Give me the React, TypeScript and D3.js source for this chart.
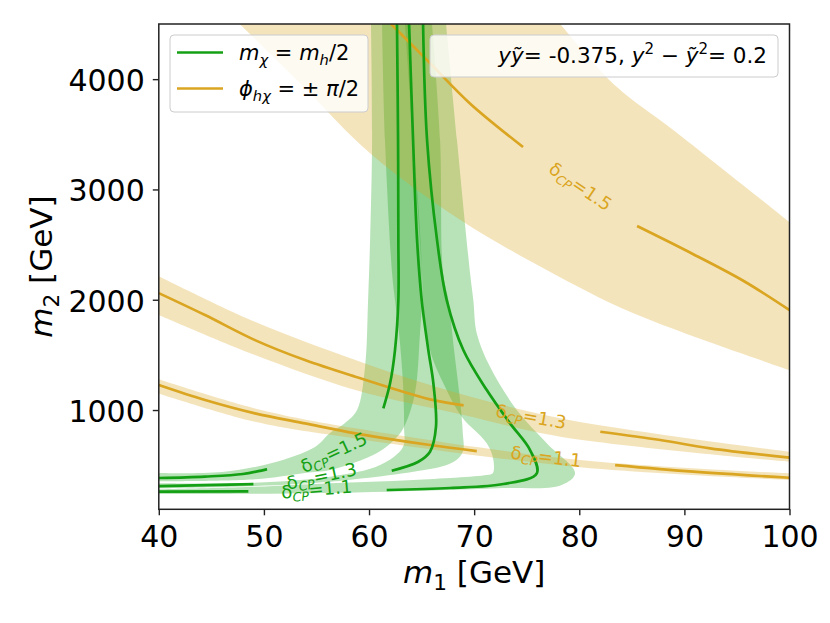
import React, { useEffect, useRef } from "react";
import * as d3 from "d3";

type Pt = [number, number];

// axis ticks
const xTicks = [40, 50, 60, 70, 80, 90, 100];
const yTicks = [1000, 2000, 3000, 4000];

// phi_hchi = +-pi/2 curves (m1 [GeV], m2 [GeV]); "a"/"b" are the pieces either side of the label
const orange15a: Pt[] = [[62.1, 4500], [65.8, 4145], [69.6, 3780], [74.65, 3385]];
const orange15b: Pt[] = [[85.5, 2668], [90.8, 2415], [95.6, 2172], [100, 1906]];
const orange15Up: Pt[] = [[78.2, 4500], [83.5, 3935], [89.0, 3535], [100, 2704]];
const orange15Lo: Pt[] = [[47.7, 4500], [53.9, 3918], [60.1, 3329], [68.7, 2722], [76.9, 2269], [85.1, 1879], [100, 1362]];

const orange13a: Pt[] = [[40, 2060], [44.4, 1861], [49.15, 1634], [53.9, 1453], [58.7, 1302], [65.8, 1097], [69.0, 1043]];
const orange13b: Pt[] = [[82.0, 803], [87.7, 728], [92.45, 653], [100, 568]];
const orange13Up: Pt[] = [[40, 2214], [49.15, 1800], [58.7, 1453], [65.8, 1227], [78.2, 925], [100, 622]];
const orange13Lo: Pt[] = [[40, 1861], [49.15, 1498], [58.7, 1181], [69.0, 955], [78.2, 758], [100, 531]];

const orange11a: Pt[] = [[40, 1227], [44.4, 1091], [49.15, 970], [53.9, 879], [58.7, 789], [65.8, 683], [70.25, 628]];
const orange11b: Pt[] = [[83.41, 501], [90.86, 441], [100, 386]];
const orange11Up: Pt[] = [[40, 1278], [49.15, 1015], [58.7, 834], [80.08, 547], [100, 426]];
const orange11Lo: Pt[] = [[40, 1151], [49.15, 894], [58.7, 743], [80.08, 481], [100, 366]];

// m_chi = m_h/2 curves
const green15a: Pt[] = [[62.66, 4500], [62.76, 3447], [62.79, 2541], [62.79, 1997], [62.47, 1544], [62.0, 1242], [61.36, 1015]];
const green15b: Pt[] = [[40, 384], [44.4, 397], [48.0, 420], [50.3, 463]];
const green13a: Pt[] = [[63.81, 4500], [64.19, 3447], [64.57, 2541], [65.01, 1997], [65.64, 1544], [66.12, 1242], [66.37, 849], [65.8, 622], [64.69, 531], [62.16, 450]];
const green13b: Pt[] = [[40, 311], [49.0, 329]];
const green11a: Pt[] = [[65.14, 4500], [65.52, 3447], [66.47, 2541], [67.39, 1997], [68.97, 1544], [71.2, 1181], [73.42, 879], [75.32, 637], [75.96, 426], [72.78, 329], [67.71, 293], [61.68, 275]];
const green11b: Pt[] = [[40, 260], [48.52, 263]];

// green bands: outer edge (top -> left) then inner edge (left -> top)
const gBand15Out: Pt[] = [[60.19, 4500], [60.29, 3447], [60.1, 2541], [59.91, 1997], [59.62, 1390], [58.86, 1000], [57.72, 882], [56.29, 792], [54.86, 665], [50.77, 520], [46.01, 438], [40, 429]];
const gBand15In: Pt[] = [[40, 354], [49.15, 372], [53.91, 430], [56.29, 456], [60.76, 610], [62.66, 755], [63.42, 864], [64.37, 1154], [64.85, 1698], [65.04, 1997], [65.04, 2242], [64.66, 2903], [64.19, 3447], [63.71, 4500]];
const gBand13Out: Pt[] = [[61.24, 4500], [61.52, 3447], [62.19, 2242], [62.47, 1997], [62.85, 1698], [63.23, 1245], [63.33, 846], [63.23, 665], [61.05, 501], [56.29, 395], [49.15, 341], [40, 336]];
const gBand13In: Pt[] = [[40, 290], [49.15, 311], [56.29, 350], [59.46, 381], [64.22, 441], [67.39, 501], [68.5, 562], [68.97, 637], [68.92, 789], [68.82, 925], [68.66, 1091], [68.09, 1544], [67.55, 1997], [67.04, 2242], [66.76, 3447], [65.99, 4500]];
const gBand11Out: Pt[] = [[63.42, 4500], [64.19, 3447], [65.04, 2242], [65.14, 1997], [65.8, 1544], [67.07, 1242], [68.82, 939], [71.2, 698], [71.83, 547], [71.77, 426], [71.2, 411], [64.22, 366], [56.29, 336], [49.15, 304], [40, 281]];
const gBand11In: Pt[] = [[40, 239], [49.15, 240], [61.84, 260], [72.15, 290], [78.33, 320], [79.6, 426], [76.91, 698], [74.05, 1000], [71.51, 1392], [70.25, 1695], [69.92, 1997], [69.61, 2242], [68.37, 3447], [67.33, 4500]];

// inline contour labels: value, position (data), rotation (deg)
const greenLabels = [
  { v: "1.5", x: 56.67, y: 610, a: -25 },
  { v: "1.3", x: 55.5, y: 395, a: -12 },
  { v: "1.1", x: 55.02, y: 275, a: -5 },
];
const orangeLabels = [
  { v: "1.5", x: 80.08, y: 3021, a: 34 },
  { v: "1.3", x: 75.41, y: 934, a: 10 },
  { v: "1.1", x: 76.84, y: 571, a: 7 },
];

type Run = { t: string; i?: boolean; sub?: boolean; sup?: boolean };

const GREEN = "#14a014";
const ORANGE = "#daa520";
const FONT = "DejaVu Sans, sans-serif";

function addRuns(sel: any, runs: Run[], size: number) {
  let shift = 0;
  runs.forEach((r) => {
    const target = r.sub ? 0.22 * size : r.sup ? -0.4 * size : 0;
    const ts = sel
      .append("tspan")
      .attr("font-size", r.sub || r.sup ? size * 0.7 : size)
      .text(r.t);
    if (target !== shift) {
      ts.attr("dy", target - shift);
      shift = target;
    }
    if (r.i) ts.attr("font-style", "italic");
  });
}

const App: React.FC = () => {
  const ref = useRef<SVGSVGElement | null>(null);

  useEffect(() => {
    if (!ref.current) return;
    const svg = d3.select(ref.current);
    svg.selectAll("*").remove();

    const left = 158.8, right = 789.5, top = 24, bottom = 509.3;

    const x = d3.scaleLinear().domain([40, 100]).range([left, right]);
    const y = d3.scaleLinear().domain([100, 4500]).range([bottom, top]);

    svg.attr("font-family", FONT);

    svg.append("defs")
      .append("clipPath")
      .attr("id", "plot-clip")
      .append("rect")
      .attr("x", left)
      .attr("y", top)
      .attr("width", right - left)
      .attr("height", bottom - top);

    const line = d3
      .line<Pt>()
      .x((d) => x(d[0]))
      .y((d) => y(d[1]))
      .curve(d3.curveCatmullRom.alpha(0.5));

    // band outline: first edge, straight join, second edge, close
    const band = (a: Pt[], b: Pt[]) =>
      (line(a) as string) + (line(b) as string).replace(/^M/, "L") + "Z";

    const plot = svg.append("g").attr("clip-path", "url(#plot-clip)");

    // green bands
    [
      [gBand15Out, gBand15In],
      [gBand13Out, gBand13In],
      [gBand11Out, gBand11In],
    ].forEach(([a, b]) => {
      plot.append("path")
        .attr("d", band(a, b))
        .attr("fill", GREEN)
        .attr("fill-opacity", 0.3);
    });

    // orange bands
    [
      [orange15Up, orange15Lo],
      [orange13Up, orange13Lo],
      [orange11Up, orange11Lo],
    ].forEach(([up, lo]) => {
      plot.append("path")
        .attr("d", band(up, lo.slice().reverse()))
        .attr("fill", ORANGE)
        .attr("fill-opacity", 0.3);
    });

    // orange lines
    [orange15a, orange15b, orange13a, orange13b, orange11a, orange11b].forEach((d) => {
      plot.append("path")
        .attr("d", line(d))
        .attr("fill", "none")
        .attr("stroke", ORANGE)
        .attr("stroke-width", 2.7);
    });

    // green lines
    [green15a, green15b, green13a, green13b, green11a, green11b].forEach((d) => {
      plot.append("path")
        .attr("d", line(d))
        .attr("fill", "none")
        .attr("stroke", GREEN)
        .attr("stroke-width", 2.7);
    });

    // contour labels
    const drawLabel = (l: { v: string; x: number; y: number; a: number }, color: string) => {
      const px = x(l.x), py = y(l.y);
      const t = plot.append("text")
        .attr("x", px)
        .attr("y", py)
        .attr("dy", "0.35em")
        .attr("text-anchor", "middle")
        .attr("fill", color)
        .attr("transform", `rotate(${l.a},${px},${py})`)
        .style("white-space", "pre");
      addRuns(t, [{ t: "δ" }, { t: "CP", i: true, sub: true }, { t: "=" + l.v }], 18);
    };
    greenLabels.forEach((l) => drawLabel(l, GREEN));
    orangeLabels.forEach((l) => drawLabel(l, ORANGE));

    // axes
    const xAxis = svg.append("g")
      .attr("transform", `translate(0,${bottom})`)
      .call(d3.axisBottom(x).tickValues(xTicks).tickSize(6).tickPadding(10));
    const yAxis = svg.append("g")
      .attr("transform", `translate(${left},0)`)
      .call(d3.axisLeft(y).tickValues(yTicks).tickSize(6).tickPadding(8).tickFormat(d3.format("d")));
    [xAxis, yAxis].forEach((g) => {
      g.select(".domain").remove();
      g.attr("font-family", FONT).attr("font-size", 30);
      g.selectAll(".tick line").attr("stroke", "#222").attr("stroke-width", 1.4);
      g.selectAll(".tick text").attr("fill", "#000");
    });
    yAxis.selectAll(".tick text").attr("dy", "0.38em");

    // frame
    svg.append("rect")
      .attr("x", left)
      .attr("y", top)
      .attr("width", right - left)
      .attr("height", bottom - top)
      .attr("fill", "none")
      .attr("stroke", "#222")
      .attr("stroke-width", 1.5);

    // axis labels
    const xl = svg.append("text")
      .attr("x", (left + right) / 2)
      .attr("y", 583)
      .attr("text-anchor", "middle")
      .style("white-space", "pre");
    addRuns(xl, [{ t: "m", i: true }, { t: "1", sub: true }, { t: " [GeV]" }], 31);

    const yl = svg.append("text")
      .attr("transform", `translate(52,${(top + bottom) / 2}) rotate(-90)`)
      .attr("text-anchor", "middle")
      .style("white-space", "pre");
    addRuns(yl, [{ t: "m", i: true }, { t: "2", sub: true }, { t: " [GeV]" }], 31);

    // legend
    const lg = svg.append("g");
    lg.append("rect")
      .attr("x", 170).attr("y", 35).attr("width", 198).attr("height", 77).attr("rx", 4)
      .attr("fill", "#fff").attr("fill-opacity", 0.8)
      .attr("stroke", "#cccccc").attr("stroke-width", 1);
    [
      { c: GREEN, yy: 52.5, runs: [{ t: "m", i: true }, { t: "χ", i: true, sub: true }, { t: " = " }, { t: "m", i: true }, { t: "h", i: true, sub: true }, { t: "/2" }] as Run[] },
      { c: ORANGE, yy: 88.5, runs: [{ t: "ϕ", i: true }, { t: "hχ", i: true, sub: true }, { t: " = ± " }, { t: "π", i: true }, { t: "/2" }] as Run[] },
    ].forEach((e) => {
      lg.append("line")
        .attr("x1", 177).attr("x2", 223).attr("y1", e.yy).attr("y2", e.yy)
        .attr("stroke", e.c).attr("stroke-width", 2.7);
      const t = lg.append("text")
        .attr("x", 239).attr("y", e.yy + 7.5)
        .style("white-space", "pre");
      addRuns(t, e.runs, 21);
    });

    // parameter box
    svg.append("rect")
      .attr("x", 430).attr("y", 35).attr("width", 348).attr("height", 42).attr("rx", 4)
      .attr("fill", "#fff").attr("fill-opacity", 0.8)
      .attr("stroke", "#cccccc").attr("stroke-width", 1);
    const pt = svg.append("text")
      .attr("x", 767).attr("y", 63)
      .attr("text-anchor", "end")
      .style("white-space", "pre");
    addRuns(pt, [
      { t: "y", i: true }, { t: "ỹ", i: true }, { t: "= -0.375, " },
      { t: "y", i: true }, { t: "2", sup: true }, { t: " − " },
      { t: "ỹ", i: true }, { t: "2", sup: true }, { t: "= 0.2" },
    ], 21.5);
  }, []);

  return (
    <svg
      ref={ref}
      width={830}
      height={623}
      style={{ position: "absolute", left: 0, top: 0, background: "#fff" }}
    />
  );
};

export default App;
